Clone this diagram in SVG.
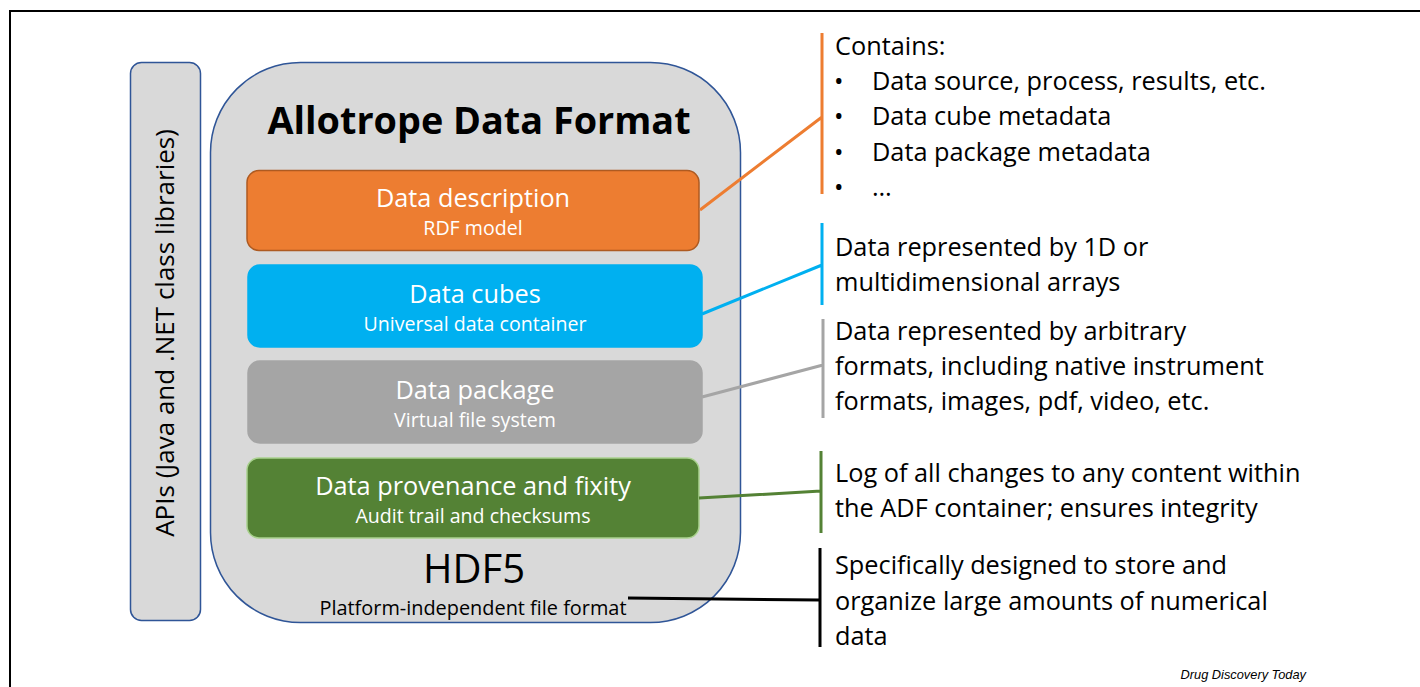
<svg xmlns="http://www.w3.org/2000/svg" width="1420" height="687" viewBox="0 0 1420 687">
<style>
.f{font-family:"Open Sans","Noto Sans","Liberation Sans",sans-serif}
.w{fill:#ffffff}
.k{fill:#000000}
.box{stroke-width:1.5}
.rt{font-size:25.3px;fill:#000}
.hd{font-size:25.3px;text-anchor:middle}
.sb{font-size:19.6px;text-anchor:middle}
.bar{stroke-width:3;fill:none}
</style>
<rect x="10" y="11" width="1430" height="700" fill="#fff" stroke="#000" stroke-width="2"/>
<g id="apis">
<rect x="130.5" y="62.5" width="70" height="558" rx="11" fill="#D9D9D9" stroke="#2F5597" stroke-width="1.5"/>
<text class="f k" transform="translate(174 333) rotate(-90)" text-anchor="middle" font-size="26">APIs (Java and .NET class libraries)</text>
</g>
<g id="hdf5">
<rect x="210.5" y="62.5" width="530" height="560" rx="90" fill="#D9D9D9" stroke="#2F5597" stroke-width="1.5"/>
<text class="f k" x="479" y="134" text-anchor="middle" font-size="37.8" font-weight="bold">Allotrope Data Format</text>
<text class="f k" x="474" y="583" text-anchor="middle" font-size="40">HDF5</text>
<text class="f k" x="473" y="615" text-anchor="middle" font-size="19.9">Platform-independent file format</text>
</g>
<g id="data-description">
<rect class="box" x="247" y="170.5" width="452" height="80" rx="12" fill="#ED7D31" stroke="#AE5A21"/>
<text class="f w hd" x="473" y="207">Data description</text>
<text class="f w sb" x="473" y="235">RDF model</text>
</g>
<g id="data-cubes">
<rect class="box" x="248" y="265" width="454" height="82" rx="12" fill="#00B0F0" stroke="#00B0F0"/>
<text class="f w hd" x="475" y="303">Data cubes</text>
<text class="f w sb" x="475" y="331">Universal data container</text>
</g>
<g id="data-package">
<rect class="box" x="248" y="361" width="454" height="82" rx="12" fill="#A5A5A5" stroke="#A5A5A5"/>
<text class="f w hd" x="475" y="399">Data package</text>
<text class="f w sb" x="475" y="427">Virtual file system</text>
</g>
<g id="data-provenance">
<rect class="box" x="247" y="458" width="452" height="80" rx="12" fill="#548235" stroke="#A9D18E"/>
<text class="f w hd" x="473" y="495">Data provenance and fixity</text>
<text class="f w sb" x="473" y="523">Audit trail and checksums</text>
</g>
<g id="connectors">
<path class="bar" stroke="#ED7D31" d="M822 33V194M700 210L822 117"/>
<path class="bar" stroke="#00B0F0" d="M822 223V305M702 314L822 265"/>
<path class="bar" stroke="#A5A5A5" d="M823 319V418M702 397L823 365"/>
<path class="bar" stroke="#548235" d="M821 451V533M699 498L821 491"/>
<path class="bar" stroke="#000000" d="M820 548V647M628 598L820 600"/>
</g>
<g id="desc-text" class="f rt">
<text x="835" y="55">Contains:</text>
<text x="834" y="90">•</text><text x="872" y="90">Data source, process, results, etc.</text>
<text x="834" y="125">•</text><text x="872" y="125">Data cube metadata</text>
<text x="834" y="161">•</text><text x="872" y="161">Data package metadata</text>
<text x="834" y="196">•</text><text x="872" y="196">…</text>
</g>
<g id="cubes-text" class="f rt">
<text x="835" y="256">Data represented by 1D or</text>
<text x="835" y="291">multidimensional arrays</text>
</g>
<g id="package-text" class="f rt">
<text x="835" y="340">Data represented by arbitrary</text>
<text x="835" y="375">formats, including native instrument</text>
<text x="835" y="410">formats, images, pdf, video, etc.</text>
</g>
<g id="provenance-text" class="f rt">
<text x="835" y="482">Log of all changes to any content within</text>
<text x="835" y="517">the ADF container; ensures integrity</text>
</g>
<g id="hdf5-text" class="f rt">
<text x="835" y="574">Specifically designed to store and</text>
<text x="835" y="610">organize large amounts of numerical</text>
<text x="835" y="645">data</text>
</g>
<text x="1306" y="679" text-anchor="end" font-family="Liberation Sans, Arial, sans-serif" font-style="italic" font-size="12.8">Drug Discovery Today</text>
</svg>
